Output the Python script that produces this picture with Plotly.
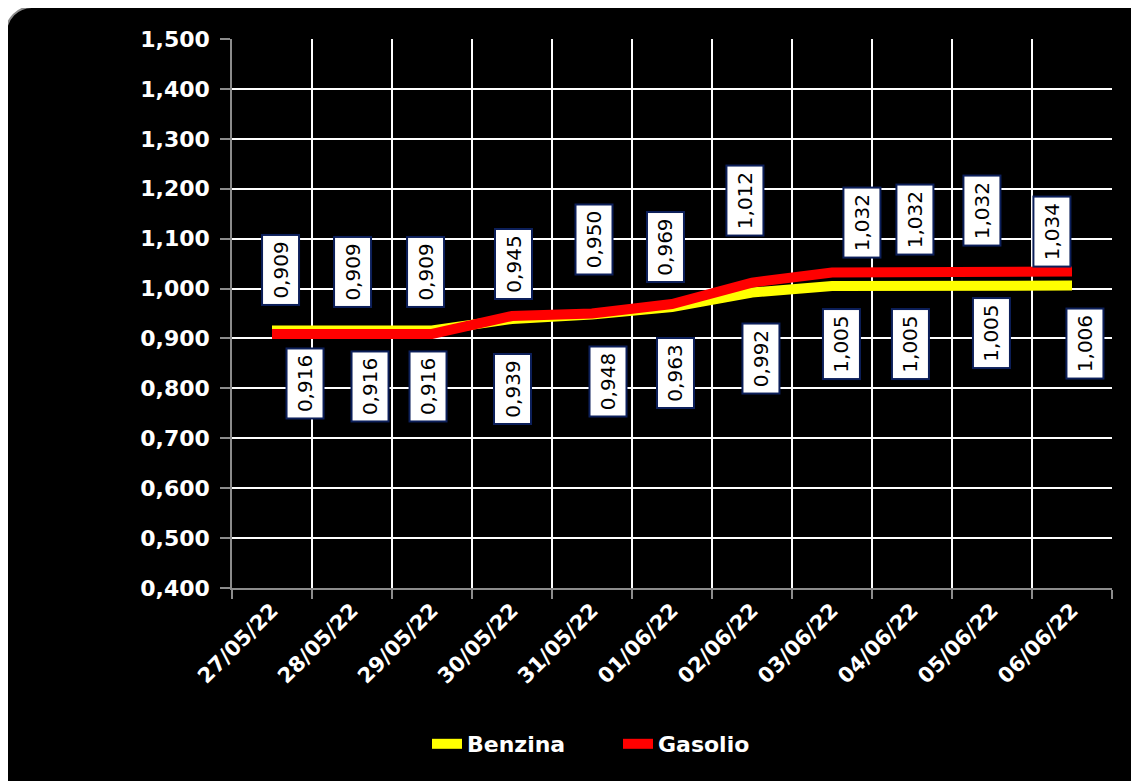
import plotly.graph_objects as go

# ---- data ----
dates = ["27/05/22", "28/05/22", "29/05/22", "30/05/22", "31/05/22", "01/06/22",
         "02/06/22", "03/06/22", "04/06/22", "05/06/22", "06/06/22"]
benzina = [0.916, 0.916, 0.916, 0.939, 0.948, 0.963, 0.992, 1.005, 1.005, 1.005, 1.006]
gasolio = [0.909, 0.909, 0.909, 0.945, 0.950, 0.969, 1.012, 1.032, 1.032, 1.032, 1.034]
y_ticks = [0.4, 0.5, 0.6, 0.7, 0.8, 0.9, 1.0, 1.1, 1.2, 1.3, 1.4, 1.5]

# ---- label offsets (pixels, layout only) ----
gas_dx = [9, 1, -6, 1, 2, -7, -7, 30, 3, -10, -20]
gas_dy = [64, 62, 62, 52, 74, 57, 82, 50, 53, 62, 40]
ben_dx = [33, 18, -4, 1, 16, 3, 9, 9, -2, -1, 13]
ben_dy = [-53, -56, -56, -70, -67, -66, -66, -58, -58, -47, -58]

W, H = 1139, 781
OFF = 8                               # page body margin
L, R, T, B = 232, 1112, 39, 588       # plot area in window pixels


def px(X, Y):
    return (X - L) / (R - L), (B - Y) / (B - T)


def rounded_rect(x0, y0, x1, y1, r):
    k = 0.45
    def p(X, Y):
        a, b = px(X, Y)
        return f"{a:.5f},{b:.5f}"
    d = f"M {p(x0 + r, y0)} L {p(x1 - r, y0)} "
    d += f"C {p(x1 - r * k, y0)} {p(x1, y0 + r * k)} {p(x1, y0 + r)} "
    d += f"L {p(x1, y1 - r)} "
    d += f"C {p(x1, y1 - r * k)} {p(x1 - r * k, y1)} {p(x1 - r, y1)} "
    d += f"L {p(x0 + r, y1)} "
    d += f"C {p(x0 + r * k, y1)} {p(x0, y1 - r * k)} {p(x0, y1 - r)} "
    d += f"L {p(x0, y0 + r)} "
    d += f"C {p(x0, y0 + r * k)} {p(x0 + r * k, y0)} {p(x0 + r, y0)} Z"
    return d


fig = go.Figure()
fig.add_trace(go.Scatter(x=dates, y=benzina, mode="lines", name="Benzina",
                         line=dict(color="#FFFF00", width=10)))
fig.add_trace(go.Scatter(x=dates, y=gasolio, mode="lines", name="Gasolio",
                         line=dict(color="#FF0000", width=10)))

ann = []
box = dict(showarrow=False, textangle=-90, bgcolor="white", bordercolor="#0c1f5a",
           borderwidth=2, borderpad=4, width=60, height=27,
           font=dict(family="DejaVu Sans", size=20, color="black"),
           xref="x", yref="y")
for i, d in enumerate(dates):
    ann.append(dict(x=d, y=gasolio[i], text=f"{gasolio[i]:.3f}".replace(".", ","),
                    xshift=gas_dx[i], yshift=gas_dy[i], **box))
    ann.append(dict(x=d, y=benzina[i], text=f"{benzina[i]:.3f}".replace(".", ","),
                    xshift=ben_dx[i], yshift=ben_dy[i], **box))

fig.update_layout(
    width=W, height=H,
    margin=dict(l=L - OFF, r=W - (R - OFF), t=T - OFF, b=H - (B - OFF), pad=0),
    paper_bgcolor="white",
    plot_bgcolor="black",
    separators=",.",
    showlegend=True,
    legend=dict(orientation="h", x=(427 - L) / (R - L), xanchor="left",
                y=(B - 744) / (B - T), yanchor="middle",
                font=dict(family="DejaVu Sans", size=22, color="white", weight="bold"),
                bgcolor="rgba(0,0,0,0)", itemwidth=30, traceorder="normal",
                entrywidth=146, entrywidthmode="pixels"),
    annotations=ann,
    shapes=[dict(type="path", xref="paper", yref="paper", layer="below",
                 path=rounded_rect(6, 7, 1165, 800, 26),
                 fillcolor="black", line=dict(color="#8c8c8c", width=2))],
)

fig.update_xaxes(
    type="category", tickson="boundaries",
    showgrid=True, gridcolor="white", gridwidth=1.5,
    showline=True, linecolor="#8c8c8c", linewidth=1.5,
    ticks="outside", ticklen=9, tickcolor="#8c8c8c", tickwidth=1.5,
    tickangle=-45,
    tickfont=dict(family="DejaVu Sans", size=21, color="white", weight="bold"),
    range=[-0.5, len(dates) - 0.5],
)
fig.update_yaxes(
    range=[0.4, 1.5], tickvals=y_ticks, tickformat=".3f",
    showgrid=True, gridcolor="white", gridwidth=1.5, zeroline=False,
    showline=True, linecolor="#8c8c8c", linewidth=1.5,
    ticks="outside", ticklen=10, tickcolor="#8c8c8c", tickwidth=1.5,
    ticklabelstandoff=6,
    tickfont=dict(family="DejaVu Sans", size=22, color="white", weight="bold"),
)

fig.write_html("out.html")
